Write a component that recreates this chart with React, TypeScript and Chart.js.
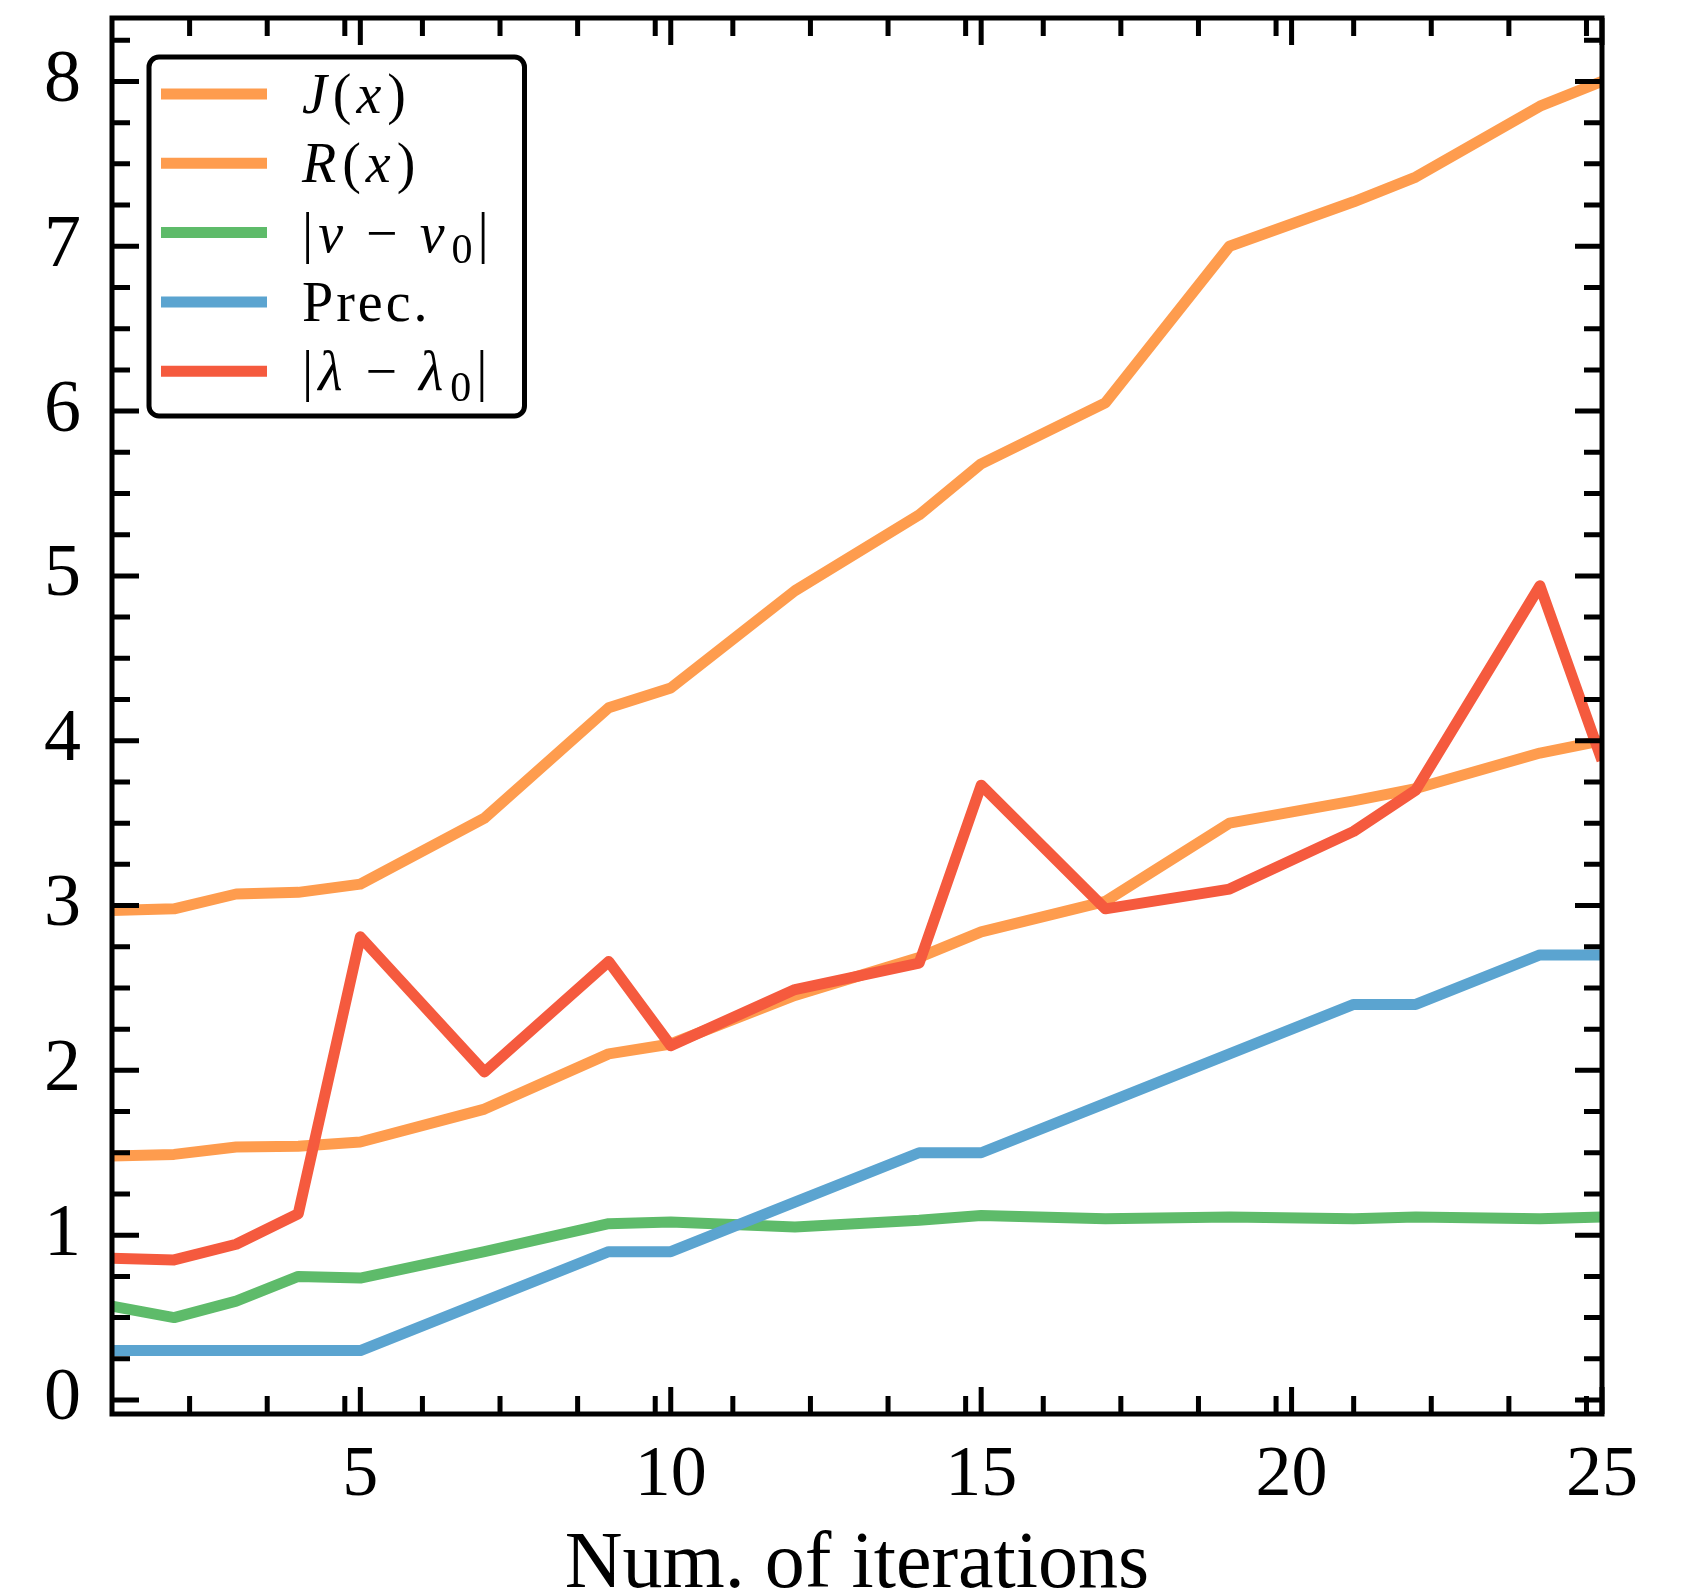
import React, { useEffect, useRef } from "react";
import { Chart, registerables } from "chart.js";

Chart.register(...registerables);

const iterations = [1, 2, 3, 4, 5, 7, 9, 10, 12, 14, 15, 17, 19, 21, 22, 24, 25];
const jValues = [2.97, 2.98, 3.07, 3.08, 3.13, 3.53, 4.2, 4.32, 4.91, 5.37, 5.68, 6.05, 7.0, 7.27, 7.42, 7.85, 8.0];
const rValues = [1.48, 1.49, 1.535, 1.54, 1.565, 1.765, 2.1, 2.16, 2.455, 2.685, 2.84, 3.025, 3.5, 3.635, 3.71, 3.925, 4.0];
const vDiffValues = [0.57, 0.5, 0.6, 0.75, 0.74, 0.9, 1.07, 1.08, 1.05, 1.09, 1.12, 1.1, 1.11, 1.1, 1.11, 1.1, 1.11];
const precValues = [0.3, 0.3, 0.3, 0.3, 0.3, 0.6, 0.9, 0.9, 1.2, 1.5, 1.5, 1.8, 2.1, 2.4, 2.4, 2.7, 2.7];
const lambdaDiffValues = [0.86, 0.85, 0.945, 1.13, 2.81, 1.99, 2.66, 2.15, 2.49, 2.65, 3.73, 2.98, 3.1, 3.45, 3.7, 4.94, 3.88];

const seriesLabels = ["J(x)", "R(x)", "|v − v0|", "Prec.", "|λ − λ0|"];
const seriesColors = ["#fe9c4e", "#fe9c4e", "#5ebb6a", "#5ba4d0", "#f55a3e"];

// legend label pieces: [text, kind] kind: r=roman, i=italic, s=subscript
const legendPieces: [string, string][][] = [
  [["J", "i"], ["(", "r"], ["x", "i"], [")", "r"]],
  [["R", "i"], ["(", "r"], ["x", "i"], [")", "r"]],
  [["|", "r"], ["v", "i"], [" − ", "r"], ["v", "i"], ["0", "s"], ["|", "r"]],
  [["Prec.", "r"]],
  [["|", "r"], ["λ", "i"], [" − ", "r"], ["λ", "i"], ["0", "s"], ["|", "r"]],
];

const xMajorTicks = [5, 10, 15, 20, 25];
const yMajorTicks = [0, 1, 2, 3, 4, 5, 6, 7, 8];
const xMinorStep = 1.25;
const yMinorStep = 0.25;

const X_MIN = 1;
const X_MAX = 25;
const Y_MIN = -0.085;
const Y_MAX = 8.385;

const FONT = "'Liberation Serif', 'Times New Roman', serif";

const framePlugin = {
  id: "frameTicksLegend",
  afterDraw(chart: any) {
    const ctx = chart.ctx;
    const { left, right, top, bottom } = chart.chartArea;
    const xs = chart.scales.x;
    const ys = chart.scales.y;
    ctx.save();
    ctx.strokeStyle = "#000";
    ctx.lineWidth = 5;
    ctx.lineCap = "butt";
    const majorLen = 27;
    const minorLen = 18;
    const xMinor: number[] = [];
    for (let v = X_MIN; v <= X_MAX + 1e-9; v += xMinorStep) {
      const r = Math.round(v * 100) / 100;
      if (r > X_MIN && !xMajorTicks.includes(r)) xMinor.push(r);
    }
    const drawX = (v: number, len: number) => {
      const px = xs.getPixelForValue(v);
      ctx.beginPath();
      ctx.moveTo(px, bottom);
      ctx.lineTo(px, bottom - len);
      ctx.moveTo(px, top);
      ctx.lineTo(px, top + len);
      ctx.stroke();
    };
    xMinor.forEach((v) => drawX(v, minorLen));
    xMajorTicks.forEach((v) => drawX(v, majorLen));
    const yMinor: number[] = [];
    for (let v = 0; v <= Y_MAX + 1e-9; v += yMinorStep) {
      const r = Math.round(v * 100) / 100;
      if (!yMajorTicks.includes(r)) yMinor.push(r);
    }
    const drawY = (v: number, len: number) => {
      const py = ys.getPixelForValue(v);
      ctx.beginPath();
      ctx.moveTo(left, py);
      ctx.lineTo(left + len, py);
      ctx.moveTo(right, py);
      ctx.lineTo(right - len, py);
      ctx.stroke();
    };
    yMinor.forEach((v) => drawY(v, minorLen));
    yMajorTicks.forEach((v) => drawY(v, majorLen));
    ctx.lineJoin = "miter";
    ctx.strokeRect(left, top, right - left, bottom - top);

    // legend
    const bx = 149, by = 57, bw = 375.5, bh = 359, rad = 10;
    ctx.beginPath();
    ctx.roundRect(bx, by, bw, bh, rad);
    ctx.fillStyle = "#fff";
    ctx.fill();
    ctx.lineWidth = 5;
    ctx.strokeStyle = "#000";
    ctx.stroke();
    const rowY0 = 94;
    const rowGap = 69.3;
    seriesLabels.forEach((_lab, i) => {
      const y = rowY0 + i * rowGap;
      ctx.beginPath();
      ctx.strokeStyle = seriesColors[i];
      ctx.lineWidth = 11;
      ctx.moveTo(161, y);
      ctx.lineTo(267, y);
      ctx.stroke();
      let x = 302;
      ctx.fillStyle = "#000";
      ctx.textBaseline = "alphabetic";
      ctx.textAlign = "left";
      const base = y + 19;
      (ctx as any).letterSpacing = "3px";
      legendPieces[i].forEach(([t, k]) => {
        if (k === "s") {
          ctx.font = `42px ${FONT}`;
          ctx.fillText(t, x + 1, base + 11);
          x += ctx.measureText(t).width + 3;
        } else {
          ctx.font = `${k === "i" ? "italic " : ""}56px ${FONT}`;
          ctx.fillText(t, x, base);
          x += ctx.measureText(t).width + (k === "i" ? 3 : 2);
        }
      });
      (ctx as any).letterSpacing = "0px";
    });
    ctx.restore();
  },
};

export default function App() {
  const ref = useRef<HTMLCanvasElement>(null);
  useEffect(() => {
    if (!ref.current) return;
    const valueSets = [jValues, rValues, vDiffValues, precValues, lambdaDiffValues];
    const chart = new Chart(ref.current, {
      type: "line",
      data: {
        datasets: valueSets.map((vals, i) => ({
          label: seriesLabels[i],
          data: iterations.map((x, j) => ({ x, y: vals[j] })),
          borderColor: seriesColors[i],
          backgroundColor: seriesColors[i],
          borderWidth: 11,
          pointRadius: 0,
          tension: 0,
          borderJoinStyle: "round",
          borderCapStyle: "butt",
          clip: 0,
          order: valueSets.length - i,
        })),
      },
      options: {
        responsive: false,
        animation: false,
        layout: { padding: { left: 44, top: 18, right: 83, bottom: 0 } },
        plugins: {
          legend: { display: false },
          tooltip: { enabled: false },
        },
        scales: {
          x: {
            type: "linear",
            min: X_MIN,
            max: X_MAX,
            afterBuildTicks: (scale: any) => {
              scale.ticks = xMajorTicks.map((v) => ({ value: v }));
            },
            afterFit: (scale: any) => {
              scale.height = 179;
            },
            grid: { display: false, drawTicks: false },
            border: { display: false },
            ticks: {
              autoSkip: false,
              maxRotation: 0,
              padding: 26,
              color: "#000",
              font: { family: FONT, size: 72, lineHeight: 1 },
              callback: (v: any) => String(v),
            },
            title: {
              display: true,
              text: "Num. of iterations",
              color: "#000",
              font: { family: FONT, size: 80, lineHeight: 0.68 },
              padding: { top: 0, bottom: 0 },
            },
          },
          y: {
            type: "linear",
            min: Y_MIN,
            max: Y_MAX,
            afterBuildTicks: (scale: any) => {
              scale.ticks = yMajorTicks.map((v) => ({ value: v }));
            },
            afterFit: (scale: any) => {
              scale.width = 112 - 44;
            },
            grid: { display: false, drawTicks: false },
            border: { display: false },
            ticks: {
              autoSkip: false,
              padding: 0,
              crossAlign: "far",
              color: "#000",
              font: { family: FONT, size: 74, lineHeight: 0.4 },
              callback: (v: any) => String(v),
            },
          },
        },
      },
      plugins: [framePlugin],
    } as any);
    return () => chart.destroy();
  }, []);
  return (
    <div style={{ position: "fixed", left: 0, top: 0, width: 1685, height: 1593, background: "#fff" }}>
      <canvas ref={ref} width={1685} height={1593} style={{ width: 1685, height: 1593, display: "block" }} />
    </div>
  );
}
